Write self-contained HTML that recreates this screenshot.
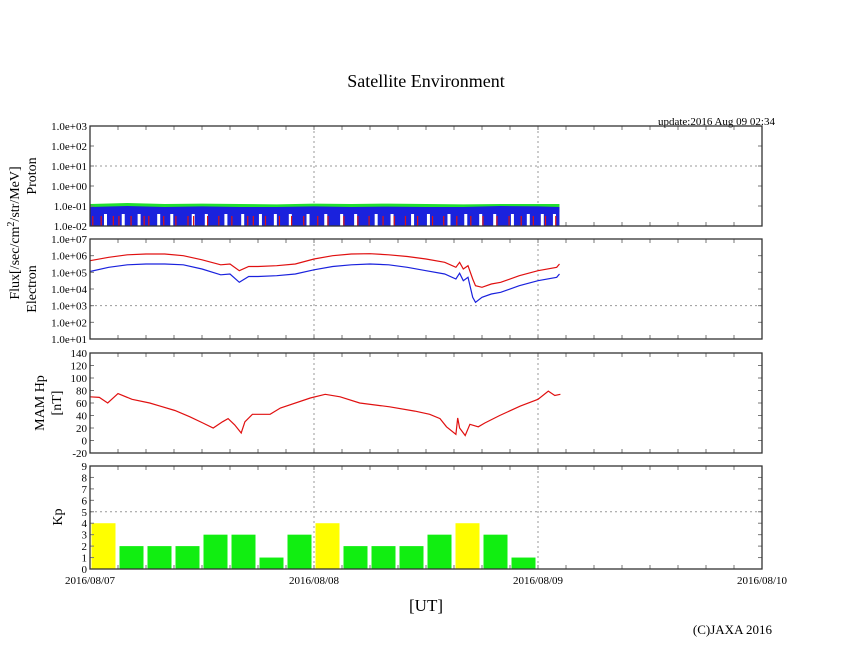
<!DOCTYPE html>
<html><head><meta charset="utf-8">
<style>
html,body{margin:0;padding:0;background:#fff;width:846px;height:655px;overflow:hidden;font-family:"Liberation Serif",serif;}
svg{display:block;}
</style></head>
<body>
<svg id="chart" width="846" height="655" xmlns="http://www.w3.org/2000/svg" font-family="Liberation Serif, serif">
<text x="426" y="87" font-size="18" text-anchor="middle">Satellite Environment</text>
<text x="775" y="125" font-size="11" text-anchor="end">update:2016 Aug 09 02:34</text>
<text x="426" y="611" font-size="17" text-anchor="middle">[UT]</text>
<text x="772" y="634" font-size="13" text-anchor="end">(C)JAXA 2016</text>
<text transform="translate(19,233) rotate(-90)" font-size="14" text-anchor="middle">Flux[/sec/cm<tspan baseline-shift="super" font-size="10">2</tspan>/str/MeV]</text>
<text transform="translate(36,176) rotate(-90)" font-size="14" text-anchor="middle">Proton</text>
<text transform="translate(36,289) rotate(-90)" font-size="14" text-anchor="middle">Electron</text>
<text transform="translate(44,403) rotate(-90)" font-size="14" text-anchor="middle">MAM Hp</text>
<text transform="translate(61,403) rotate(-90)" font-size="14" text-anchor="middle">[nT]</text>
<text transform="translate(62,517) rotate(-90)" font-size="14" text-anchor="middle">Kp</text>
<g id="g"></g>
</svg>
<script>
// ---- data ----
const dayLabels = ["2016/08/07","2016/08/08","2016/08/09","2016/08/10"];
const kpValues = [4,2,2,2,3,3,1,3,4,2,2,2,3,4,3,1];
const hpHours = [0,1,1.9,3,4.5,6.4,7.5,9.1,10.7,12.1,13.2,14.2,14.8,15.5,16.2,16.6,17.4,19.3,20.4,23.6,25.2,26.8,28.9,32.1,34.8,36.4,37.5,38.2,39.2,39.4,39.6,40.2,40.7,41.6,42.3,43.9,46.1,48,49.1,49.8,50.4];
const hpValues = [70,69,60,75,66,60,55,48,38,28,20,30,35,25,12,30,42,42,52,68,74,70,60,54,47,42,35,22,10,36,20,8,26,22,28,40,55,66,79,72,74];
const eHours = [0,2,4,6,8,10,12,14,15,16,17,18,20,22,24,26,28,30,32,34,36,38,39.2,39.6,40,40.5,41,41.3,42,43,44,46,48,50,50.3];
const eRed =  [5.7,5.9,6.05,6.1,6.1,6.0,5.75,5.45,5.5,5.1,5.35,5.35,5.4,5.5,5.8,6.0,6.1,6.12,6.05,5.95,5.8,5.6,5.3,5.6,5.2,5.4,4.6,4.2,4.1,4.3,4.4,4.8,5.1,5.3,5.5];
const eBlue = [5.05,5.3,5.45,5.5,5.5,5.45,5.2,4.85,4.9,4.4,4.75,4.75,4.8,4.9,5.15,5.35,5.45,5.5,5.45,5.3,5.1,4.9,4.6,4.95,4.5,4.7,3.5,3.2,3.5,3.7,3.8,4.2,4.5,4.7,4.9];
const protonHours = [0,4,8,12,16,20,24,28,32,36,40,44,48,50.3];
const protonGreen = [-0.9,-0.85,-0.9,-0.88,-0.9,-0.92,-0.88,-0.9,-0.88,-0.9,-0.92,-0.9,-0.9,-0.9];
const protonBlue = [-1.05,-1.0,-1.05,-1.02,-1.05,-1.05,-1.02,-1.05,-1.03,-1.05,-1.05,-1.0,-1.02,-1.05];
const protonRedSpikes = [0.3,1.2,2.5,3.1,4.4,5.8,6.3,7.9,9.2,10.5,11.1,12.6,13.8,15.2,16.9,17.5,18.8,20.3,21.6,22.9,24.4,25.5,27.2,28.7,29.9,31.4,32.6,33.8,35.1,36.7,37.9,39.3,40.8,42.1,43.6,44.9,46.2,47.5,48.8,49.9];
const protonBlueGaps = [1.5,3.4,5.1,7.2,8.6,10.9,12.3,14.4,16.2,18.1,19.7,21.3,23.2,25.1,26.8,28.3,30.5,32.2,34.4,36.1,38.3,40.1,41.7,43.2,45.1,46.8,48.3,49.6];
const protonLog = ["1.0e+03","1.0e+02","1.0e+01","1.0e+00","1.0e-01","1.0e-02"];
const electronLog = ["1.0e+07","1.0e+06","1.0e+05","1.0e+04","1.0e+03","1.0e+02","1.0e+01"];
const hpTicks = [140,120,100,80,60,40,20,0,-20];
const kpTicks = [9,8,7,6,5,4,3,2,1,0];

const NS="http://www.w3.org/2000/svg";
const g=document.getElementById('g');
const X0=90,X1=762,HOURS=72;
const xs=h=>X0+h*(X1-X0)/HOURS;
function el(tag,attrs,parent){const e=document.createElementNS(NS,tag);for(const k in attrs)e.setAttribute(k,attrs[k]);(parent||g).appendChild(e);return e;}
const panels={
 p:{top:126,bot:226,min:-2,max:3},
 e:{top:239,bot:339,min:1,max:7},
 h:{top:353,bot:453,min:-20,max:140},
 k:{top:466,bot:569,min:0,max:9}
};
const ys=(p,v)=>p.bot-(v-p.min)/(p.max-p.min)*(p.bot-p.top);

function frame(p,name,gridVal){
 for(let d=1;d<3;d++){const l=el('line',{x1:xs(d*24),x2:xs(d*24),y1:p.top,y2:p.bot,stroke:'#999','stroke-dasharray':'2,3'});
  }
 if(gridVal!==null){
  const gl=el('line',{x1:X0,x2:X1,y1:ys(p,gridVal),y2:ys(p,gridVal),stroke:'#999','stroke-dasharray':'2,3'});
  
 }
 for(let h=3;h<72;h+=3){
  el('line',{x1:xs(h),x2:xs(h),y1:p.top,y2:p.top+4,stroke:'#777'});
  el('line',{x1:xs(h),x2:xs(h),y1:p.bot,y2:p.bot-4,stroke:'#777'});
 }
}
function border(p,name){const r=el('rect',{x:X0,y:p.top,width:X1-X0,height:p.bot-p.top,fill:'none',stroke:'#333','stroke-width':1.3});
 }
function yTicks(p,vals,labels,name){
 vals.forEach((v,i)=>{const y=ys(p,v);
  el('line',{x1:X0,x2:X0+4,y1:y,y2:y,stroke:'#777'});el('line',{x1:X1,x2:X1-4,y1:y,y2:y,stroke:'#777'});
  const t=el('text',{x:X0-3,y:y+4,'font-size':11,'text-anchor':'end'});t.textContent=labels[i];
  });
}
function line(p,hs,vs,color,name){
 const d=hs.map((h,i)=>(i?'L':'M')+xs(h).toFixed(1)+','+ys(p,vs[i]).toFixed(1)).join('');
 const l=el('path',{d:d,fill:'none',stroke:color,'stroke-width':1.2});
 
}

let P=panels.p;frame(P,'proton',1);
{const top=protonHours.map((h,i)=>xs(h)+','+ys(P,protonGreen[i])).join(' ');
 const gp=el('polygon',{points:top+' '+xs(50.3)+','+ys(P,-1.3)+' '+xs(0)+','+ys(P,-1.3),fill:'#22e030'});
 
 const bt=protonHours.map((h,i)=>xs(h)+','+ys(P,protonBlue[i])).join(' ');
 const bp=el('polygon',{points:bt+' '+xs(50.3)+','+P.bot+' '+xs(0)+','+P.bot,fill:'#1a22dd'});
 
 protonBlueGaps.forEach(h=>{const r=el('rect',{x:xs(h),y:ys(P,-1.4),width:3,height:P.bot-ys(P,-1.4),fill:'#fff'});
  });
 protonRedSpikes.forEach(h=>{const l=el('line',{x1:xs(h),x2:xs(h),y1:ys(P,-1.5),y2:P.bot,stroke:'#e01010','stroke-width':1.2});
  });
}
yTicks(P,[3,2,1,0,-1,-2],protonLog,'proton');border(P,'proton');

P=panels.e;frame(P,'electron',3);
line(P,eHours,eRed,'#e01010','electron-red-series');
line(P,eHours,eBlue,'#1a22dd','electron-blue-series');
yTicks(P,[7,6,5,4,3,2,1],electronLog,'electron');border(P,'electron');

P=panels.h;frame(P,'hp',null);
line(P,hpHours,hpValues,'#e01010','hp-series');
yTicks(P,hpTicks,hpTicks.map(String),'hp');border(P,'hp');

P=panels.k;frame(P,'kp',5);
kpValues.forEach((v,i)=>{const r=el('rect',{x:xs(i*3)+1.5,y:ys(P,v),width:xs(3)-X0-4,height:P.bot-ys(P,v),fill:v>=4?'#ffff00':'#11ee11'});
 });
yTicks(P,kpTicks,kpTicks.map(String),'kp');border(P,'kp');
dayLabels.forEach((s,i)=>{const t=el('text',{x:xs(i*24),y:584,'font-size':11,'text-anchor':'middle'});t.textContent=s;
 });
</script>
</body></html>
